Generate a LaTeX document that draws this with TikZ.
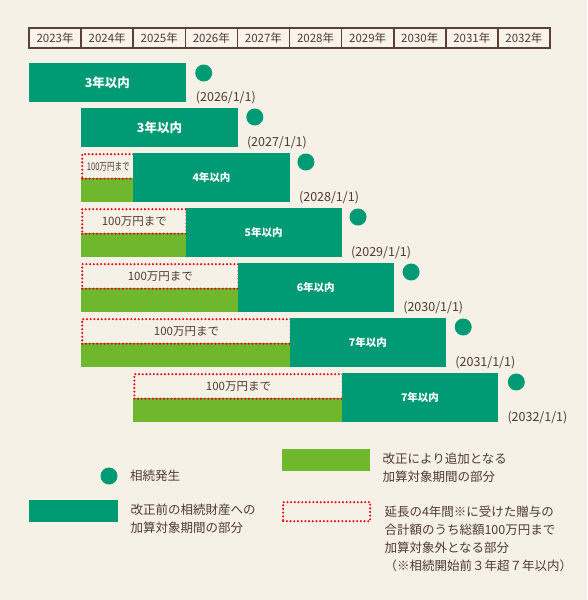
\documentclass[tikz,border=0pt]{standalone}
\usepackage{fontspec}
\setmainfont{Noto Sans CJK JP}
\usetikzlibrary{positioning}
\definecolor{inhBg}{HTML}{F6F1E6}
\definecolor{inhCell}{HTML}{F8F4EC}
\definecolor{inhBrown}{HTML}{5B4033}
\definecolor{inhText}{HTML}{4F3B30}
\definecolor{inhTeal}{HTML}{009B74}
\definecolor{inhGreen}{HTML}{6FB72C}
\definecolor{inhRed}{HTML}{E60012}
\tikzset{
  yearcell/.style={rectangle,draw=inhBrown,line width=1.6pt,fill=inhCell,
    minimum width=52.1pt,minimum height=20pt,inner sep=0pt,text=inhText,
    font=\fontsize{11.5}{11.5}\selectfont},
  oldbar/.style={rectangle,fill=inhTeal,anchor=north west,inner sep=0pt,
    minimum width=156.3pt,minimum height=49pt,text=white,
    font=\bfseries\fontsize{10.5}{10.5}\selectfont},
  bigbar/.style={oldbar,minimum height=39pt,
    font=\bfseries\fontsize{12.5}{12.5}\selectfont},
  addbar/.style={rectangle,fill=inhGreen,anchor=north west,inner sep=0pt,
    minimum height=24.5pt},
  freebox/.style={rectangle,draw=inhRed,line width=2.3pt,line cap=round,
    dash pattern=on 0pt off 3.7pt,anchor=north west,inner sep=0pt,
    minimum height=24.5pt,text=inhText,font=\fontsize{11.5}{11.5}\selectfont},
  eventdot/.style={circle,fill=inhTeal,minimum size=17pt,inner sep=0pt},
  datelabel/.style={anchor=base west,inner sep=0pt,text=inhText,
    font=\fontsize{12.5}{12.5}\selectfont},
  legendtext/.style={anchor=north west,inner sep=0pt,align=left,text=inhText,
    font=\fontsize{12.5}{18}\selectfont}
}
\begin{document}
\begin{tikzpicture}[x=1pt,y=-1pt]
\fill[inhBg] (0,0) rectangle (587,600);
\useasboundingbox (0,0) rectangle (587,600);

% year header
\foreach \yr [count=\i from 0] in {2023,...,2032}
  \node[yearcell] (y\yr) at ({55.05+52.1*\i},38) {\yr{}年};

% periods
\node[bigbar] (b1) at (29,63) {3年以内};
\node[bigbar] (b2) at (81.1,108) {3年以内};

\node[addbar,minimum width=52.1pt] (a3) at (81.1,177.5) {};
\node[freebox,minimum width=52.1pt] (f3) at (81.1,153)
  {\scalebox{0.72}[1]{\fontsize{10.5}{10.5}\selectfont 100万円まで}};
\node[oldbar] (b3) at (133.2,153) {4年以内};

\node[addbar,minimum width=104.2pt] (a4) at (81.1,232.5) {};
\node[freebox,minimum width=104.2pt] (f4) at (81.1,208) {100万円まで};
\node[oldbar] (b4) at (185.3,208) {5年以内};

\node[addbar,minimum width=156.3pt] (a5) at (81.1,287.5) {};
\node[freebox,minimum width=156.3pt] (f5) at (81.1,263) {100万円まで};
\node[oldbar] (b5) at (237.4,263) {6年以内};

\node[addbar,minimum width=208.4pt] (a6) at (81.1,342.5) {};
\node[freebox,minimum width=208.4pt] (f6) at (81.1,318) {100万円まで};
\node[oldbar] (b6) at (289.5,318) {7年以内};

\node[addbar,minimum width=208.4pt] (a7) at (133.2,397.5) {};
\node[freebox,minimum width=208.4pt] (f7) at (133.2,373) {100万円まで};
\node[oldbar] (b7) at (341.6,373) {7年以内};

% inheritance dates
\node[eventdot] (d1) at (b1.north east) [xshift=18pt,yshift=-10pt] {};
\node[eventdot] (d2) at (b2.north east) [xshift=17pt,yshift=-9pt] {};
\node[eventdot] (d3) at (b3.north east) [xshift=16pt,yshift=-9pt] {};
\node[eventdot] (d4) at (b4.north east) [xshift=16pt,yshift=-9pt] {};
\node[eventdot] (d5) at (b5.north east) [xshift=17pt,yshift=-9pt] {};
\node[eventdot] (d6) at (b6.north east) [xshift=17pt,yshift=-9pt] {};
\node[eventdot] (d7) at (b7.north east) [xshift=18pt,yshift=-9pt] {};
\node[datelabel] (t1) at (b1.south east) [xshift=10pt,yshift=1pt] {(2026/1/1)};
\node[datelabel] (t2) at (b2.south east) [xshift=9pt,yshift=1pt] {(2027/1/1)};
\node[datelabel] (t3) at (b3.south east) [xshift=9pt,yshift=1pt] {(2028/1/1)};
\node[datelabel] (t4) at (b4.south east) [xshift=9pt,yshift=1pt] {(2029/1/1)};
\node[datelabel] (t5) at (b5.south east) [xshift=9pt,yshift=1pt] {(2030/1/1)};
\node[datelabel] (t6) at (b6.south east) [xshift=9pt,yshift=1pt] {(2031/1/1)};
\node[datelabel] (t7) at (b7.south east) [xshift=9pt,yshift=1pt] {(2032/1/1)};

% legend
\node[eventdot] (ldot) at (109,476) {};
\node[legendtext,anchor=west] (lt1) at (130,476) {相続発生};
\node[oldbar,minimum width=89pt,minimum height=22pt] (lold) at (29,500) {};
\node[legendtext] (lt2) at (lold.north east) [xshift=12pt,yshift=-3.5pt]
  {改正前の相続財産への\\加算対象期間の部分};
\node[addbar,minimum width=88pt,minimum height=22pt] (ladd) at (282,449) {};
\node[legendtext] (lt3) at (ladd.north east) [xshift=12pt,yshift=-3.5pt]
  {改正により追加となる\\加算対象期間の部分};
\node[freebox,minimum width=87pt,minimum height=19pt] (lfree) at (282,501) {};
\node[legendtext] (lt4) at (lfree.north east) [xshift=13pt,yshift=-4.5pt]
  {延長の4年間※に受けた贈与の\\合計額のうち総額100万円まで\\加算対象外となる部分\\（※相続開始前３年超７年以内）};
\end{tikzpicture}
\end{document}
